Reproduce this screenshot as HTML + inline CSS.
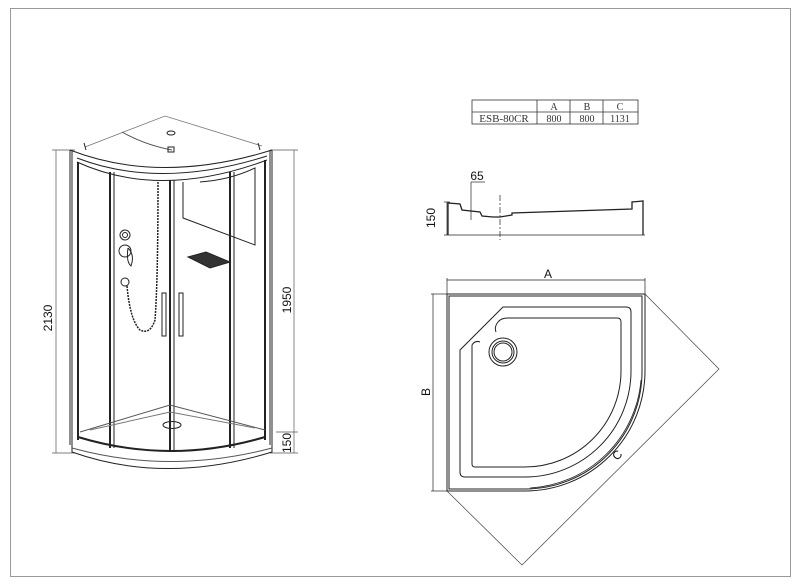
<!DOCTYPE html>
<html><head><style>html,body{margin:0;padding:0;background:#fff}svg{display:block}</style></head>
<body>
<svg width="800" height="586" viewBox="0 0 800 586" xmlns="http://www.w3.org/2000/svg" font-family="Liberation Sans, sans-serif">
<rect x="0" y="0" width="800" height="586" fill="#fff"/>
<rect x="10.5" y="8.5" width="780" height="568" fill="none" stroke="#999" stroke-width="1"/>
<!-- Cabin -->
<g fill="none" stroke="#222" stroke-width="1">
 <!-- dims -->
 <line x1="56" y1="150" x2="56" y2="453" stroke="#555" stroke-width="0.7"/>
 <line x1="52" y1="150" x2="75" y2="150" stroke="#555" stroke-width="0.7"/>
 <line x1="52" y1="453" x2="75" y2="453" stroke="#555" stroke-width="0.7"/>
 <line x1="294" y1="150" x2="294" y2="453" stroke="#555" stroke-width="0.7"/>
 <line x1="270" y1="150" x2="298" y2="150" stroke="#555" stroke-width="0.7"/>
 <line x1="276" y1="432" x2="298" y2="432" stroke="#555" stroke-width="0.7"/>
 <line x1="270" y1="453" x2="298" y2="453" stroke="#555" stroke-width="0.7"/>
 <!-- roof -->
 <path d="M85 147 L165 116 L262 146" stroke="#777" stroke-width="0.8"/>
 <path d="M122 132 Q145 145 172 150" stroke="#555"/>
 <rect x="168" y="147" width="6" height="5"/>
 <ellipse cx="171" cy="133" rx="4" ry="2"/>
 <line x1="84" y1="143" x2="86" y2="150"/><line x1="258" y1="143" x2="260" y2="150"/>
 <!-- top cap -->
 <path d="M70 150 Q160 185 272 150"/>
 <path d="M77 158 Q160 190 267 156"/>
 <path d="M77 162 Q160 200 267 160"/>
 <!-- posts -->
 <line x1="70" y1="150" x2="70" y2="445"/><line x1="72" y1="150" x2="72" y2="445"/>
 <line x1="78" y1="162" x2="78" y2="440" stroke-width="2"/>
 <line x1="110" y1="172" x2="110" y2="448" stroke-width="2"/><line x1="114" y1="172" x2="114" y2="448"/>
 <line x1="170" y1="180" x2="170" y2="452" stroke-width="2"/><line x1="174" y1="180" x2="174" y2="452"/>
 <line x1="230" y1="172" x2="230" y2="448" stroke-width="2"/><line x1="234" y1="172" x2="234" y2="448"/>
 <line x1="265" y1="160" x2="265" y2="440" stroke-width="2"/>
 <line x1="270" y1="150" x2="270" y2="445"/><line x1="272" y1="150" x2="272" y2="445"/>
 <!-- mirror -->
 <path d="M183 182 L183 218 L255 245 L255 168 Q230 180 200 182"/>
 <!-- shelf -->
 <path d="M188 257 L206 252 L230 262 L210 268 Z" fill="#333"/>
 <!-- faucets -->
 <circle cx="125" cy="235" r="5"/><circle cx="125" cy="235" r="2.5"/>
 <circle cx="125" cy="251" r="6"/><path d="M128 248 Q135 255 131 266 Q126 262 128 248"/>
 <circle cx="125" cy="282" r="4"/>
 <path d="M127 286 Q130 320 140 330 Q150 335 155 320 Q158 280 158 182" stroke-dasharray="2 1" stroke-width="1.5"/>
 <!-- handles -->
 <rect x="162" y="293" width="4" height="43"/><rect x="179" y="293" width="4" height="43"/>
 <!-- floor -->
 <path d="M80 432 L170 405 L265 430" stroke="#555"/>
 <path d="M90 430 L170 412 L255 428" stroke="#777"/>
 <ellipse cx="172" cy="425" rx="9" ry="3.5"/>
 <!-- base -->
 <path d="M72 433 L72 452 Q165 485 272 452 L272 433"/>
 <path d="M78 437 Q170 465 265 437" stroke-width="2"/>
 <path d="M72 448 Q170 475 272 448" stroke="#555"/>
</g>
<g font-size="12" fill="#111">
 <text transform="translate(52,318) rotate(-90)" text-anchor="middle">2130</text>
 <text transform="translate(291,300) rotate(-90)" text-anchor="middle">1950</text>
 <text transform="translate(291,443) rotate(-90)" text-anchor="middle">150</text>
</g>
<!-- Table -->
<g fill="none" stroke="#333" stroke-width="0.8">
 <rect x="472" y="100" width="166" height="24"/>
 <line x1="472" y1="112" x2="638" y2="112"/>
 <line x1="537" y1="100" x2="537" y2="124"/><line x1="570" y1="100" x2="570" y2="124"/><line x1="603" y1="100" x2="603" y2="124"/>
</g>
<g font-family="Liberation Serif, serif" font-size="10" fill="#333" text-anchor="middle">
 <text x="554" y="110">A</text><text x="587" y="110">B</text><text x="620" y="110">C</text>
 <text x="504" y="122" font-size="11">ESB-80CR</text><text x="554" y="122">800</text><text x="587" y="122">800</text><text x="620" y="122">1131</text>
</g>
<!-- Section -->
<g fill="none" stroke="#222" stroke-width="1">
 <line x1="444" y1="202" x2="450" y2="202" stroke-width="0.7"/>
 <line x1="444" y1="235" x2="645" y2="235" stroke-width="0.7"/>
 <line x1="447" y1="202" x2="447" y2="235" stroke-width="0.7"/>
 <line x1="471" y1="182" x2="471" y2="220" stroke-width="0.7"/>
 <line x1="471" y1="182" x2="485" y2="182" stroke-width="0.7"/>
 <line x1="500" y1="195" x2="500" y2="240" stroke-width="0.7" stroke-dasharray="6 2 2 2"/>
 <path d="M448 235 L448 203 L460 204 L462 210 L480 212 L482 216 L493 217 L500 217 L512 215 L512 213 L632 209 L632 202 L643 201 L643 235" stroke-width="1.3"/>
</g>
<text x="477" y="180" font-size="12" fill="#111" text-anchor="middle">65</text>
<text transform="translate(435,218) rotate(-90)" font-size="12" fill="#111" text-anchor="middle">150</text>
<!-- Tray -->
<g fill="none" stroke="#222" stroke-width="1">
 <line x1="447" y1="280" x2="645" y2="280" stroke-width="0.7"/>
 <line x1="447" y1="278" x2="447" y2="294" stroke-width="0.7"/>
 <line x1="645" y1="278" x2="645" y2="294" stroke-width="0.7"/>
 <line x1="433" y1="294" x2="433" y2="491" stroke-width="0.7"/>
 <line x1="431" y1="294" x2="447" y2="294" stroke-width="0.7"/>
 <line x1="431" y1="491" x2="447" y2="491" stroke-width="0.7"/>
 <path d="M645 294 L719 369 L522 565 L447 491" stroke-width="0.7" stroke="#444"/>
 <path d="M447 294 L645 294 L645 371 A120 120 0 0 1 525 491 L447 491 Z"/>
 <path d="M449 296 L642 296 L642 371 A117 117 0 0 1 525 489 L449 489 Z"/>
 <path d="M641 380 A118 118 0 0 1 530 488" stroke-width="0.8"/>
 <path d="M503 307 L626 307 Q631 307 631 312 L631 371 A106 106 0 0 1 525 477 L465 477 Q460 477 460 472 L460 350 Z"/>
 <path d="M508 318 L617 318 Q621 318 621 322 L621 371 A96 96 0 0 1 525 467 L475 467 Q472 467 472 464 L472 345 Q475 340 480 342 M496 332 Q494 327 498 322 Q501 318 508 318"/>
 <circle cx="503" cy="352" r="14"/><circle cx="503" cy="352" r="11"/><circle cx="503" cy="352" r="9"/>
</g>
<text x="548" y="278" font-size="12" fill="#111" text-anchor="middle">A</text>
<text transform="translate(430,392) rotate(-90)" font-size="12" fill="#111" text-anchor="middle">B</text>
<text transform="translate(620,458) rotate(-45)" font-size="12" fill="#111" text-anchor="middle">C</text>
</svg>
</body></html>
